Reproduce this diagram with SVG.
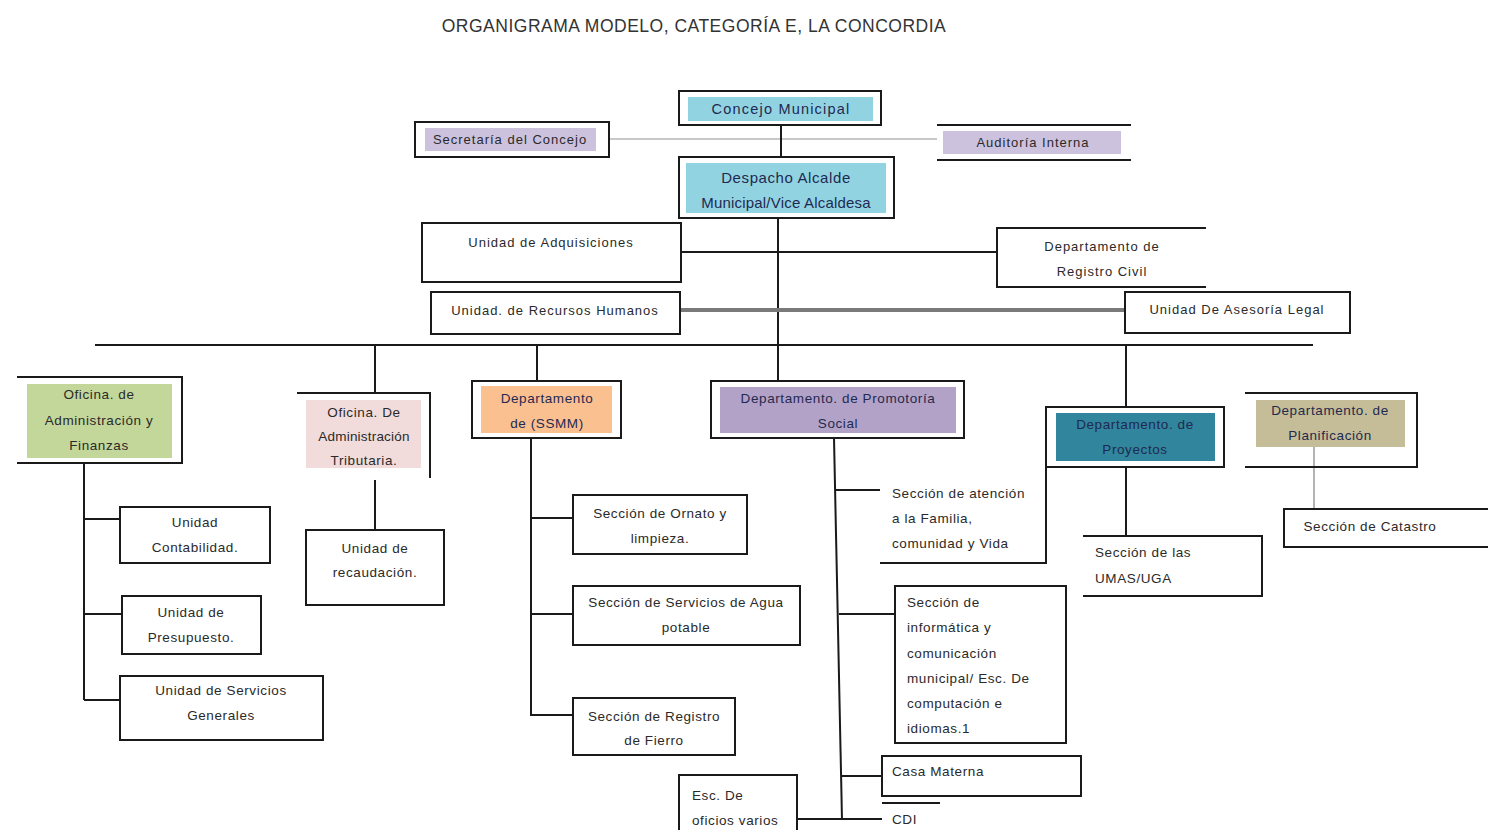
<svg xmlns="http://www.w3.org/2000/svg" width="1488" height="830" viewBox="0 0 1488 830">
<style>
  text { font-family: "Liberation Sans", "Open Sans", Arial, sans-serif; font-size: 13.5px; letter-spacing: 0.6px; fill: #2a2a2a; }
  .c { text-anchor: middle; }
  .dk { fill: #1f2a50; }
  .sm { font-size: 13px; letter-spacing: 1px; }
  .box { fill: #ffffff; stroke: #1a1a1a; stroke-width: 2; }
  .open { fill: none; stroke: #1a1a1a; stroke-width: 2; }
  .ln { stroke: #1a1a1a; stroke-width: 2; fill: none; }
  .title { font-size: 17.5px; letter-spacing: 0.5px; fill: #333333; text-anchor: middle; }
</style>
<rect width="1488" height="830" fill="#ffffff"/>
<text class="title" x="694" y="32">ORGANIGRAMA MODELO, CATEGORÍA E, LA CONCORDIA</text>

<g id="connectors">
  <line x1="609" y1="139" x2="937" y2="139" stroke="#c8c8c8" stroke-width="2"/>
  <line class="ln" x1="781" y1="125" x2="781" y2="157"/>
  <line class="ln" x1="778" y1="218" x2="778" y2="382"/>
  <line class="ln" x1="681" y1="252" x2="997" y2="252"/>
  <line x1="680" y1="310" x2="1125" y2="310" stroke="#7a7a7a" stroke-width="4"/>
  <line class="ln" x1="95" y1="345" x2="1313" y2="345"/>
  <line class="ln" x1="375" y1="345" x2="375" y2="393"/>
  <line class="ln" x1="537" y1="345" x2="537" y2="381"/>
  <line class="ln" x1="1126" y1="345" x2="1126" y2="407"/>
  <line class="ln" x1="84" y1="463" x2="84" y2="700"/>
  <line class="ln" x1="84" y1="519" x2="120" y2="519"/>
  <line class="ln" x1="84" y1="614" x2="122" y2="614"/>
  <line class="ln" x1="84" y1="700" x2="120" y2="700"/>
  <line class="ln" x1="375" y1="480" x2="375" y2="530"/>
  <line class="ln" x1="531" y1="438" x2="531" y2="716"/>
  <line class="ln" x1="531" y1="518" x2="573" y2="518"/>
  <line class="ln" x1="531" y1="614" x2="573" y2="614"/>
  <line class="ln" x1="531" y1="715" x2="573" y2="715"/>
  <line class="ln" x1="834" y1="438" x2="842" y2="820"/>
  <line class="ln" x1="836" y1="490" x2="880" y2="490"/>
  <line class="ln" x1="839" y1="614" x2="895" y2="614"/>
  <line class="ln" x1="841" y1="776" x2="882" y2="776"/>
  <line class="ln" x1="797" y1="819" x2="882" y2="819"/>
  <line class="ln" x1="1126" y1="467" x2="1126" y2="536"/>
  <line x1="1314" y1="447" x2="1314" y2="510" stroke="#9a9a9a" stroke-width="1.5"/>
</g>

<g id="concejo">
  <rect class="box" x="679" y="91" width="202" height="34"/>
  <rect x="688" y="97" width="185" height="24" fill="#92d3e2"/>
  <text class="c dk" x="781" y="114" style="font-size:14.5px;letter-spacing:1.2px">Concejo Municipal</text>
</g>
<g id="secretaria">
  <rect class="box" x="415" y="122" width="194" height="35"/>
  <rect x="425" y="128" width="171" height="23" fill="#cdc2dd"/>
  <text class="c sm" x="510" y="144">Secretaría del Concejo</text>
</g>
<g id="auditoria">
  <line class="ln" x1="937" y1="125" x2="1131" y2="125"/>
  <line class="ln" x1="937" y1="160" x2="1131" y2="160"/>
  <rect x="943" y="131" width="178" height="23" fill="#cdc2dd"/>
  <text class="c sm" x="1033" y="147">Auditoría Interna</text>
</g>
<g id="despacho">
  <rect class="box" x="679" y="157" width="215" height="61"/>
  <rect x="686" y="163" width="200" height="50" fill="#92d3e2"/>
  <text class="c dk" x="786" y="183" style="font-size:15px;letter-spacing:0.6px">Despacho Alcalde</text>
  <text class="c dk" x="786" y="208" style="font-size:15px;letter-spacing:0.2px">Municipal/Vice Alcaldesa</text>
</g>
<g id="adquisiciones">
  <rect class="box" x="422" y="223" width="259" height="59"/>
  <text class="c sm" x="551" y="247">Unidad de Adquisiciones</text>
</g>
<g id="registro-civil">
  <path class="open" d="M1206,228 H997 V287 H1206"/>
  <text class="c sm" x="1102" y="251">Departamento de</text>
  <text class="c sm" x="1102" y="276">Registro Civil</text>
</g>
<g id="recursos-humanos">
  <rect class="box" x="431" y="292" width="249" height="42"/>
  <text class="c sm" x="555" y="315">Unidad. de Recursos Humanos</text>
</g>
<g id="asesoria-legal">
  <rect class="box" x="1125" y="292" width="225" height="41"/>
  <text class="c sm" x="1237" y="314">Unidad De Asesoría Legal</text>
</g>

<g id="finanzas">
  <path class="open" d="M17,377 H182 V463 H17"/>
  <rect x="27" y="384" width="145" height="74" fill="#c4d79b"/>
  <text class="c" x="99" y="399">Oficina. de</text>
  <text class="c" x="99" y="425">Administración y</text>
  <text class="c" x="99" y="450">Finanzas</text>
</g>
<g id="tributaria">
  <path class="open" d="M297,393 H430 V478"/>
  <rect x="306" y="400" width="115" height="68" fill="#f2dcdb"/>
  <text class="c" x="364" y="417">Oficina. De</text>
  <text class="c" x="364" y="441" style="letter-spacing:0.2px">Administración</text>
  <text class="c" x="364" y="465">Tributaria.</text>
</g>
<g id="ssmm">
  <rect class="box" x="472" y="381" width="149" height="57"/>
  <rect x="481" y="386" width="131" height="47" fill="#fac090"/>
  <text class="c dk" x="547" y="403">Departamento</text>
  <text class="c dk" x="547" y="428">de (SSMM)</text>
</g>
<g id="promotoria">
  <rect class="box" x="711" y="381" width="253" height="57"/>
  <rect x="720" y="387" width="236" height="46" fill="#b3a2c7"/>
  <text class="c dk" x="838" y="403">Departamento. de Promotoría</text>
  <text class="c dk" x="838" y="428">Social</text>
</g>
<g id="proyectos">
  <rect class="box" x="1046" y="407" width="178" height="60"/>
  <rect x="1056" y="413" width="159" height="48" fill="#31859c"/>
  <text class="c dk" x="1135" y="429">Departamento. de</text>
  <text class="c dk" x="1135" y="454">Proyectos</text>
</g>
<g id="planificacion">
  <path class="open" d="M1245,393 H1417 V467 H1245"/>
  <rect x="1256" y="400" width="149" height="47" fill="#c4bd97"/>
  <text class="c dk" x="1330" y="415">Departamento. de</text>
  <text class="c dk" x="1330" y="440">Planificación</text>
</g>

<g id="contabilidad">
  <rect class="box" x="120" y="507" width="150" height="56"/>
  <text class="c" x="195" y="527">Unidad</text>
  <text class="c" x="195" y="552">Contabilidad.</text>
</g>
<g id="presupuesto">
  <rect class="box" x="122" y="596" width="139" height="58"/>
  <text class="c" x="191" y="617">Unidad de</text>
  <text class="c" x="191" y="642">Presupuesto.</text>
</g>
<g id="servicios-generales">
  <rect class="box" x="120" y="676" width="203" height="64"/>
  <text class="c" x="221" y="695">Unidad de Servicios</text>
  <text class="c" x="221" y="720">Generales</text>
</g>
<g id="recaudacion">
  <rect class="box" x="306" y="530" width="138" height="75"/>
  <text class="c" x="375" y="553">Unidad de</text>
  <text class="c" x="375" y="577">recaudación.</text>
</g>
<g id="ornato">
  <rect class="box" x="573" y="495" width="174" height="59"/>
  <text class="c" x="660" y="518">Sección de Ornato y</text>
  <text class="c" x="660" y="543">limpieza.</text>
</g>
<g id="agua">
  <rect class="box" x="573" y="586" width="227" height="59"/>
  <text class="c" x="686" y="607">Sección de Servicios de Agua</text>
  <text class="c" x="686" y="632">potable</text>
</g>
<g id="fierro">
  <rect class="box" x="573" y="698" width="162" height="57"/>
  <text class="c" x="654" y="721">Sección de Registro</text>
  <text class="c" x="654" y="745">de Fierro</text>
</g>
<g id="atencion-familia">
  <path class="open" d="M1046,465 V563 H880"/>
  <text x="892" y="498">Sección de atención</text>
  <text x="892" y="523">a la Familia,</text>
  <text x="892" y="548">comunidad y Vida</text>
</g>
<g id="informatica">
  <rect class="box" x="895" y="586" width="171" height="157"/>
  <text x="907" y="607">Sección de</text>
  <text x="907" y="632">informática y</text>
  <text x="907" y="658">comunicación</text>
  <text x="907" y="683">municipal/ Esc. De</text>
  <text x="907" y="708">computación e</text>
  <text x="907" y="733">idiomas.1</text>
</g>
<g id="casa-materna">
  <rect class="box" x="882" y="756" width="199" height="40"/>
  <text x="892" y="776">Casa Materna</text>
</g>
<g id="cdi">
  <line class="ln" x1="882" y1="803" x2="940" y2="803"/>
  <text x="892" y="824">CDI</text>
</g>
<g id="oficios-varios">
  <path class="open" d="M679,832 V775 H797 V832"/>
  <text x="692" y="800">Esc. De</text>
  <text x="692" y="825">oficios varios</text>
</g>
<g id="umas">
  <path class="open" d="M1083,536 H1262 V596 H1083"/>
  <text x="1095" y="557">Sección de las</text>
  <text x="1095" y="583">UMAS/UGA</text>
</g>
<g id="catastro">
  <path class="open" d="M1490,509 H1284 V547 H1490"/>
  <text class="c" x="1370" y="531">Sección de Catastro</text>
</g>
</svg>
